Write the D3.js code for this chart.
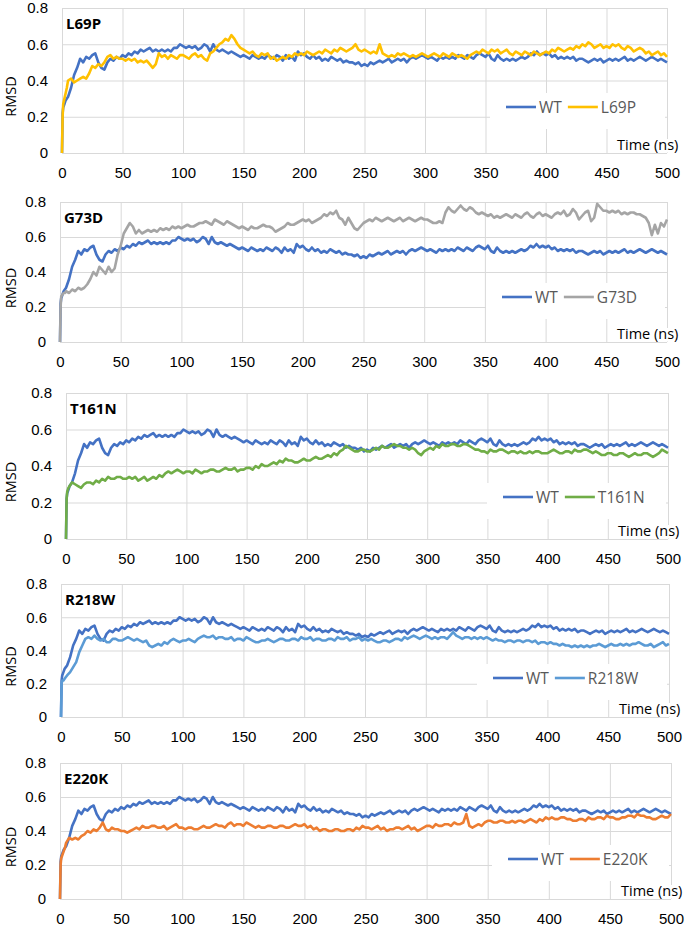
<!DOCTYPE html>
<html>
<head>
<meta charset="utf-8">
<script src="https://cdn.jsdelivr.net/npm/d3@7"></script>
<style>
  body { margin: 0; background: #fff; }
  svg { display: block; font-family: "Open Sans", sans-serif; }
</style>
</head>
<body>
<div id="chart"></div>
<script>
// sampling grid of the trajectories (ns): a few early frames, then every 2.5 ns
const timeNs = [0, 0.5, 1, 2, 3, 4].concat(d3.range(5, 500.1, 2.5));

// wild type, same trajectory in every panel
const wtRmsd = [
  0, 0.22, 0.25, 0.27, 0.29, 0.30,
  0.31, 0.36, 0.43, 0.47, 0.52, 0.50, 0.53, 0.52, 0.54, 0.55, 0.50, 0.47, 0.46, 0.50, 0.52, 0.51, 0.53, 0.52, 0.54,
  0.53, 0.55, 0.54, 0.56, 0.55, 0.57, 0.56, 0.57, 0.58, 0.56, 0.57, 0.56, 0.57, 0.56, 0.57, 0.56, 0.58, 0.58, 0.60, 0.59,
  0.58, 0.59, 0.58, 0.59, 0.57, 0.58, 0.60, 0.59, 0.56, 0.60, 0.57, 0.56, 0.57, 0.56, 0.55, 0.56, 0.55, 0.54, 0.53, 0.54,
  0.53, 0.52, 0.54, 0.53, 0.52, 0.53, 0.52, 0.54, 0.53, 0.52, 0.54, 0.53, 0.51, 0.54, 0.52, 0.53, 0.51, 0.56, 0.54, 0.55,
  0.53, 0.52, 0.54, 0.52, 0.53, 0.51, 0.52, 0.51, 0.53, 0.52, 0.51, 0.52, 0.50, 0.51, 0.50, 0.50, 0.49, 0.50, 0.48, 0.49,
  0.48, 0.50, 0.49, 0.50, 0.51, 0.50, 0.51, 0.52, 0.50, 0.51, 0.52, 0.51, 0.52, 0.50, 0.52, 0.53, 0.52, 0.53, 0.54, 0.53,
  0.52, 0.53, 0.52, 0.51, 0.53, 0.52, 0.53, 0.52, 0.53, 0.52, 0.54, 0.53, 0.52, 0.54, 0.53, 0.52, 0.54, 0.55, 0.54, 0.53,
  0.55, 0.52, 0.51, 0.54, 0.52, 0.51, 0.52, 0.51, 0.52, 0.51, 0.52, 0.53, 0.52, 0.53, 0.55, 0.54, 0.56, 0.54, 0.55, 0.54,
  0.55, 0.53, 0.54, 0.52, 0.53, 0.52, 0.53, 0.52, 0.53, 0.51, 0.52, 0.52, 0.51, 0.50, 0.51, 0.52, 0.51, 0.52, 0.50, 0.51,
  0.52, 0.51, 0.52, 0.51, 0.52, 0.53, 0.51, 0.52, 0.51, 0.52, 0.53, 0.52, 0.51, 0.52, 0.53, 0.52, 0.51, 0.52, 0.51, 0.50
];

const l69pRmsd = [
  0, 0.20, 0.27, 0.30, 0.33, 0.36,
  0.40, 0.41, 0.39, 0.40, 0.41, 0.42, 0.41, 0.44, 0.48, 0.47, 0.49, 0.48, 0.50, 0.53, 0.54, 0.52, 0.53, 0.52, 0.52,
  0.51, 0.52, 0.51, 0.52, 0.50, 0.51, 0.50, 0.51, 0.49, 0.47, 0.49, 0.55, 0.53, 0.54, 0.52, 0.54, 0.53, 0.52, 0.54, 0.54,
  0.53, 0.52, 0.54, 0.55, 0.53, 0.54, 0.52, 0.51, 0.55, 0.56, 0.58, 0.60, 0.61, 0.63, 0.62, 0.65, 0.63, 0.60, 0.58, 0.57,
  0.56, 0.55, 0.56, 0.54, 0.53, 0.55, 0.54, 0.55, 0.52, 0.53, 0.51, 0.52, 0.53, 0.52, 0.54, 0.53, 0.55, 0.54, 0.55, 0.54,
  0.56, 0.55, 0.54, 0.55, 0.56, 0.55, 0.57, 0.56, 0.55, 0.57, 0.56, 0.58, 0.57, 0.56, 0.57, 0.58, 0.60, 0.57, 0.56, 0.57,
  0.56, 0.55, 0.56, 0.55, 0.60, 0.55, 0.54, 0.53, 0.54, 0.53, 0.55, 0.54, 0.55, 0.54, 0.53, 0.54, 0.53, 0.54, 0.55, 0.54,
  0.53, 0.54, 0.55, 0.54, 0.53, 0.55, 0.54, 0.53, 0.55, 0.54, 0.53, 0.54, 0.53, 0.52, 0.54, 0.55, 0.56, 0.55, 0.57, 0.56,
  0.55, 0.57, 0.56, 0.57, 0.55, 0.56, 0.57, 0.55, 0.54, 0.56, 0.55, 0.54, 0.56, 0.55, 0.54, 0.56, 0.55, 0.54, 0.55, 0.56,
  0.55, 0.57, 0.56, 0.58, 0.57, 0.56, 0.57, 0.58, 0.57, 0.59, 0.58, 0.60, 0.59, 0.61, 0.60, 0.58, 0.59, 0.60, 0.58, 0.59,
  0.58, 0.60, 0.59, 0.60, 0.58, 0.57, 0.59, 0.58, 0.56, 0.57, 0.58, 0.57, 0.55, 0.56, 0.54, 0.55, 0.56, 0.54, 0.55, 0.53
];

const g73dRmsd = [
  0, 0.20, 0.26, 0.27, 0.28, 0.28,
  0.29, 0.28, 0.30, 0.29, 0.31, 0.30, 0.31, 0.33, 0.36, 0.40, 0.38, 0.43, 0.41, 0.39, 0.43, 0.40, 0.42, 0.50, 0.55,
  0.62, 0.65, 0.68, 0.66, 0.62, 0.64, 0.62, 0.63, 0.64, 0.63, 0.64, 0.63, 0.65, 0.64, 0.65, 0.64, 0.66, 0.65, 0.66, 0.65,
  0.66, 0.67, 0.66, 0.66, 0.67, 0.68, 0.68, 0.69, 0.68, 0.67, 0.70, 0.69, 0.68, 0.67, 0.69, 0.68, 0.67, 0.66, 0.65, 0.66,
  0.65, 0.64, 0.66, 0.65, 0.65, 0.66, 0.67, 0.66, 0.66, 0.65, 0.63, 0.64, 0.65, 0.66, 0.68, 0.67, 0.67, 0.68, 0.69, 0.70,
  0.69, 0.70, 0.68, 0.69, 0.70, 0.71, 0.73, 0.72, 0.74, 0.73, 0.75, 0.71, 0.70, 0.67, 0.71, 0.68, 0.65, 0.64, 0.66, 0.68,
  0.69, 0.70, 0.69, 0.71, 0.70, 0.69, 0.70, 0.71, 0.70, 0.69, 0.70, 0.71, 0.69, 0.70, 0.71, 0.70, 0.69, 0.70, 0.71, 0.70,
  0.70, 0.69, 0.68, 0.68, 0.69, 0.68, 0.74, 0.77, 0.75, 0.74, 0.76, 0.78, 0.76, 0.75, 0.77, 0.76, 0.74, 0.73, 0.74, 0.73,
  0.72, 0.73, 0.71, 0.72, 0.71, 0.72, 0.73, 0.72, 0.71, 0.73, 0.72, 0.71, 0.73, 0.74, 0.72, 0.71, 0.73, 0.74, 0.72, 0.73,
  0.72, 0.71, 0.73, 0.74, 0.73, 0.75, 0.72, 0.73, 0.76, 0.74, 0.70, 0.72, 0.74, 0.75, 0.69, 0.71, 0.79, 0.77, 0.75, 0.75,
  0.74, 0.75, 0.74, 0.75, 0.73, 0.74, 0.73, 0.74, 0.74, 0.73, 0.73, 0.72, 0.71, 0.68, 0.61, 0.67, 0.62, 0.68, 0.66, 0.70
];

const t161nRmsd = [
  0, 0.22, 0.26, 0.28, 0.29, 0.30,
  0.31, 0.30, 0.29, 0.28, 0.30, 0.31, 0.31, 0.30, 0.32, 0.31, 0.33, 0.32, 0.34, 0.33, 0.33, 0.34, 0.34, 0.33, 0.33,
  0.34, 0.33, 0.34, 0.32, 0.33, 0.34, 0.32, 0.33, 0.34, 0.33, 0.35, 0.34, 0.36, 0.37, 0.36, 0.37, 0.38, 0.37, 0.36, 0.37,
  0.37, 0.36, 0.38, 0.37, 0.36, 0.37, 0.37, 0.38, 0.38, 0.37, 0.37, 0.38, 0.39, 0.38, 0.38, 0.39, 0.37, 0.38, 0.38, 0.39,
  0.39, 0.38, 0.40, 0.39, 0.41, 0.40, 0.40, 0.41, 0.42, 0.41, 0.43, 0.42, 0.44, 0.43, 0.43, 0.42, 0.42, 0.43, 0.44, 0.43,
  0.43, 0.44, 0.45, 0.44, 0.44, 0.45, 0.46, 0.45, 0.47, 0.46, 0.48, 0.49, 0.51, 0.50, 0.49, 0.48, 0.48, 0.49, 0.49, 0.48,
  0.48, 0.49, 0.50, 0.49, 0.51, 0.50, 0.50, 0.51, 0.52, 0.51, 0.51, 0.50, 0.50, 0.49, 0.50, 0.49, 0.47, 0.46, 0.48, 0.49,
  0.50, 0.49, 0.51, 0.50, 0.52, 0.51, 0.51, 0.52, 0.52, 0.51, 0.51, 0.52, 0.52, 0.51, 0.50, 0.49, 0.49, 0.48, 0.48, 0.47,
  0.49, 0.48, 0.48, 0.49, 0.49, 0.48, 0.47, 0.48, 0.48, 0.47, 0.48, 0.47, 0.47, 0.48, 0.47, 0.48, 0.48, 0.47, 0.47, 0.47,
  0.48, 0.49, 0.48, 0.47, 0.47, 0.48, 0.48, 0.47, 0.49, 0.48, 0.48, 0.49, 0.49, 0.48, 0.47, 0.48, 0.47, 0.46, 0.46, 0.47,
  0.47, 0.46, 0.46, 0.47, 0.47, 0.46, 0.45, 0.46, 0.47, 0.46, 0.46, 0.47, 0.47, 0.46, 0.45, 0.46, 0.47, 0.49, 0.48, 0.47
];

const r218wRmsd = [
  0, 0.20, 0.22, 0.22, 0.23, 0.24,
  0.25, 0.27, 0.30, 0.33, 0.39, 0.43, 0.47, 0.48, 0.47, 0.49, 0.47, 0.46, 0.47, 0.45, 0.45, 0.47, 0.47, 0.46, 0.46,
  0.47, 0.48, 0.47, 0.46, 0.47, 0.46, 0.45, 0.46, 0.43, 0.42, 0.43, 0.44, 0.43, 0.45, 0.44, 0.46, 0.47, 0.46, 0.45, 0.46,
  0.46, 0.47, 0.46, 0.45, 0.47, 0.48, 0.49, 0.48, 0.48, 0.49, 0.47, 0.48, 0.48, 0.47, 0.47, 0.48, 0.46, 0.47, 0.47, 0.46,
  0.48, 0.47, 0.46, 0.45, 0.45, 0.46, 0.46, 0.47, 0.46, 0.45, 0.46, 0.47, 0.47, 0.46, 0.46, 0.47, 0.47, 0.46, 0.48, 0.47,
  0.47, 0.48, 0.46, 0.47, 0.47, 0.46, 0.46, 0.47, 0.47, 0.46, 0.48, 0.47, 0.47, 0.48, 0.46, 0.47, 0.47, 0.48, 0.46, 0.47,
  0.46, 0.47, 0.46, 0.45, 0.45, 0.46, 0.46, 0.45, 0.46, 0.47, 0.47, 0.46, 0.48, 0.47, 0.48, 0.49, 0.48, 0.47, 0.48, 0.49,
  0.48, 0.47, 0.48, 0.47, 0.48, 0.48, 0.47, 0.49, 0.51, 0.49, 0.48, 0.47, 0.48, 0.48, 0.47, 0.48, 0.47, 0.48, 0.47, 0.48,
  0.47, 0.46, 0.47, 0.46, 0.46, 0.45, 0.46, 0.46, 0.45, 0.46, 0.46, 0.45, 0.46, 0.46, 0.45, 0.46, 0.44, 0.45, 0.45, 0.44,
  0.45, 0.44, 0.44, 0.43, 0.44, 0.43, 0.43, 0.42, 0.43, 0.42, 0.43, 0.42, 0.43, 0.42, 0.43, 0.43, 0.44, 0.43, 0.42, 0.43,
  0.44, 0.43, 0.43, 0.44, 0.43, 0.44, 0.43, 0.44, 0.44, 0.45, 0.44, 0.43, 0.43, 0.44, 0.42, 0.43, 0.44, 0.45, 0.43, 0.44
];

const e220kRmsd = [
  0, 0.20, 0.24, 0.26, 0.28, 0.30,
  0.33, 0.36, 0.35, 0.36, 0.35, 0.37, 0.38, 0.40, 0.39, 0.41, 0.40, 0.42, 0.45, 0.41, 0.40, 0.42, 0.41, 0.41, 0.40,
  0.40, 0.39, 0.40, 0.41, 0.42, 0.41, 0.43, 0.42, 0.42, 0.43, 0.43, 0.42, 0.42, 0.43, 0.41, 0.42, 0.43, 0.44, 0.42, 0.42,
  0.41, 0.42, 0.42, 0.41, 0.41, 0.42, 0.43, 0.42, 0.42, 0.43, 0.44, 0.43, 0.43, 0.42, 0.44, 0.45, 0.43, 0.44, 0.44, 0.43,
  0.45, 0.44, 0.43, 0.42, 0.43, 0.42, 0.42, 0.43, 0.43, 0.42, 0.42, 0.43, 0.43, 0.42, 0.42, 0.43, 0.44, 0.43, 0.43, 0.44,
  0.42, 0.43, 0.41, 0.42, 0.40, 0.41, 0.41, 0.40, 0.40, 0.41, 0.41, 0.40, 0.40, 0.41, 0.41, 0.40, 0.42, 0.41, 0.43, 0.42,
  0.42, 0.41, 0.42, 0.43, 0.41, 0.42, 0.40, 0.41, 0.41, 0.42, 0.42, 0.41, 0.42, 0.43, 0.41, 0.42, 0.40, 0.41, 0.42, 0.43,
  0.43, 0.42, 0.44, 0.43, 0.43, 0.44, 0.44, 0.43, 0.45, 0.44, 0.44, 0.45, 0.50, 0.43, 0.42, 0.43, 0.44, 0.43, 0.45, 0.46,
  0.46, 0.45, 0.45, 0.46, 0.46, 0.45, 0.45, 0.46, 0.45, 0.46, 0.46, 0.45, 0.46, 0.47, 0.46, 0.45, 0.47, 0.46, 0.48, 0.47,
  0.48, 0.47, 0.47, 0.48, 0.48, 0.47, 0.47, 0.46, 0.46, 0.47, 0.47, 0.46, 0.48, 0.47, 0.47, 0.48, 0.48, 0.47, 0.49, 0.48,
  0.48, 0.47, 0.47, 0.48, 0.48, 0.49, 0.49, 0.48, 0.50, 0.49, 0.49, 0.48, 0.48, 0.47, 0.47, 0.48, 0.49, 0.48, 0.48, 0.50
];

const mutantNames = ['L69P', 'G73D', 'T161N', 'R218W', 'E220K'];
const mutantSeries = [l69pRmsd, g73dRmsd, t161nRmsd, r218wRmsd, e220kRmsd];
const mutantColors = ['#FFC000', '#A5A5A5', '#70AD47', '#5B9BD5', '#ED7D31'];
const wtColor = '#4472C4';

const xTicks = [0, 50, 100, 150, 200, 250, 300, 350, 400, 450, 500];
const yTicks = [0, 0.2, 0.4, 0.6, 0.8];
const yTickLabels = ['0', '0.2', '0.4', '0.6', '0.8'];

// plot-area boxes (page pixels) and legend anchor for each panel
const layout = [
  { left: 62, right: 667, top: 8,   bottom: 153, legendX: 506, legendY: 107 },
  { left: 60, right: 667, top: 202, bottom: 342, legendX: 502, legendY: 297 },
  { left: 66, right: 668, top: 393, bottom: 539, legendX: 503, legendY: 497 },
  { left: 61, right: 669, top: 584, bottom: 717, legendX: 493, legendY: 678 },
  { left: 60, right: 671, top: 763, bottom: 899, legendX: 508, legendY: 859 }
];

const width = 685, height = 928;
const svg = d3.select('#chart').append('svg')
  .attr('width', width)
  .attr('height', height);

const grid = '#d9d9d9';
const lineWidth = 2.6;

mutantNames.forEach((name, p) => {
  const L = layout[p];
  const w = L.right - L.left, h = L.bottom - L.top;

  const x = d3.scaleLinear().domain([0, 500]).range([0, w]);
  const y = d3.scaleLinear().domain([0, 0.8]).range([h, 0]);

  const g = svg.append('g').attr('transform', `translate(${L.left},${L.top})`);

  // y gridlines + labels
  const yAxis = g.append('g')
    .call(d3.axisLeft(y).tickValues(yTicks).tickSize(-w).tickPadding(14)
      .tickFormat((d, i) => yTickLabels[i]));
  // x gridlines + labels
  const xAxis = g.append('g')
    .attr('transform', `translate(0,${h})`)
    .call(d3.axisBottom(x).tickValues(xTicks).tickSize(-h).tickPadding(14));

  [yAxis, xAxis].forEach(a => {
    a.select('.domain').remove();
    a.selectAll('line').attr('stroke', grid).attr('stroke-width', 1);
    a.selectAll('text').attr('fill', '#000').style('font-size', '15px');
  });

  // RMSD axis title
  svg.append('text')
    .attr('transform', `translate(15.5,${(L.top + L.bottom) / 2 + 16}) rotate(-90)`)
    .attr('text-anchor', 'middle')
    .style('font-size', '14.5px')
    .attr('fill', '#000')
    .text('RMSD');

  const line = d3.line()
    .x((d, i) => x(timeNs[i]))
    .y(d => y(d));

  g.append('path')
    .datum(wtRmsd)
    .attr('fill', 'none')
    .attr('stroke', wtColor)
    .attr('stroke-width', lineWidth)
    .attr('stroke-linejoin', 'round')
    .attr('d', line);

  g.append('path')
    .datum(mutantSeries[p])
    .attr('fill', 'none')
    .attr('stroke', mutantColors[p])
    .attr('stroke-width', lineWidth)
    .attr('stroke-linejoin', 'round')
    .attr('d', line);

  // panel title
  svg.append('text')
    .attr('x', L.left + 4)
    .attr('y', L.top + 21)
    .style('font-size', '15px')
    .style('font-weight', 'bold')
    .attr('fill', '#000')
    .text(name);

  // legend with white box
  svg.append('rect')
    .attr('x', L.legendX - 16)
    .attr('y', L.legendY - 14)
    .attr('width', L.right - 2 - (L.legendX - 16))
    .attr('height', 36)
    .attr('fill', '#fff');

  const leg = svg.append('g');
  const entries = [['WT', wtColor], [name, mutantColors[p]]];
  let lx = L.legendX;
  entries.forEach(([label, color]) => {
    leg.append('line')
      .attr('x1', lx).attr('x2', lx + 30)
      .attr('y1', L.legendY).attr('y2', L.legendY)
      .attr('stroke', color)
      .attr('stroke-width', lineWidth);
    const t = leg.append('text')
      .attr('x', lx + 33)
      .attr('y', L.legendY + 5.5)
      .style('font-size', '15.5px')
      .attr('fill', '#595959')
      .text(label);
    lx += 33 + t.node().getComputedTextLength() + 6;
  });

  // x axis title with white box
  svg.append('rect')
    .attr('x', L.right - 52)
    .attr('y', L.bottom - 14)
    .attr('width', 66)
    .attr('height', 13.5)
    .attr('fill', '#fff');
  svg.append('text')
    .attr('x', L.right - 50)
    .attr('y', L.bottom - 3)
    .style('font-size', '14.5px')
    .attr('fill', '#000')
    .text('Time (ns)');
});
</script>
</body>
</html>
